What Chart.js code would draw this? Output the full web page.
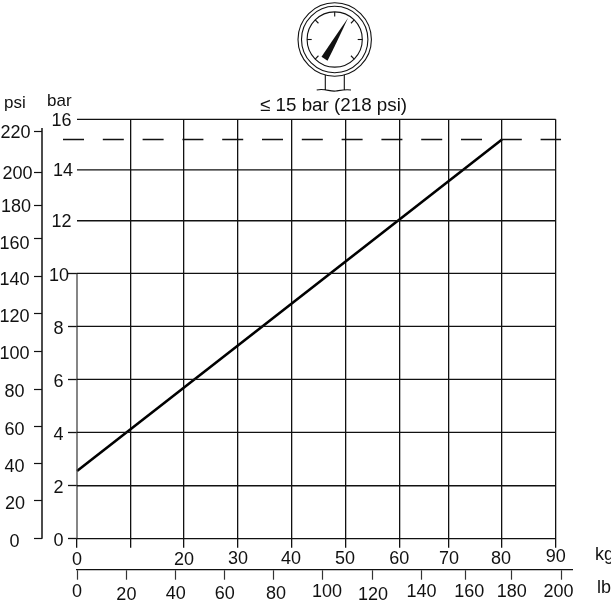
<!DOCTYPE html>
<html lang="en">
<head>
  <meta charset="UTF-8">
  <title>Pressure against weight</title>
  <script src="https://cdn.jsdelivr.net/npm/chart.js"></script>
  <style>
    html, body { margin: 0; padding: 0; background: #fff; }
    canvas { display: block; }
  </style>
</head>
<body>
  <canvas id="chart" width="611" height="602"></canvas>

  <script>
    // values; printed scales are not quite even, so each
    // label has its own measured position on the axis
    const kgLabels = ['0', '', '20', '30', '40', '50', '60', '70', '80', '90'];
    const kgValues = [0, 10.06, 20.1, 30.27, 40.4, 50.5, 60.6, 69.8, 79.9, 90];
    const lbLabels = ['0', '20', '40', '60', '80', '100', '120', '140', '160', '180', '200'];
    const lbValues = [0, 20.4, 40.8, 61, 81.3, 101.5, 121.9, 142.3, 160.5, 179.6, 200];
    const barLabels = ['0', '2', '4', '6', '8', '10', '12', '14', '16'];
    const barValues = [0, 2.02, 4.06, 6.08, 8.1, 10.12, 12.13, 14.07, 16];
    const psiLabels = ['0', '20', '40', '60', '80', '100', '120', '140', '160', '180', '200', '220'];
    const psiValues = [0, 20.2, 40.1, 60.2, 80, 100.1, 120.2, 140.1, 160.3, 178.4, 196.1, 217.6];

    const curveKg = [0, 79.9];
    const curveBar = [2.58, 15.23];
    const limitBar = 15.23;
    const limitKg = [-2.63, 91];

    // the labels were set by hand in the original: small offsets per label [dx, dy]
    const labelNudge = {
      kg: [[0, 2], [0, 0], [0, 2], [0, 0.5], [-1, 0.5], [-0.7, 0.5], [0, 0.5], [0.7, 0.5], [-1, 0.5], [0, -1]],
      lb: [[0, 0], [0, 3], [0, 2], [0, 2], [2.3, 2], [4.3, 0], [1, 3], [0, 0], [3.7, 0], [0, 0], [-2.7, 0]],
      bar: [[0.5, 2.8], [0.5, 2.5], [0.5, 2.8], [0.5, 2.8], [0.5, 2.5], [1, 2.8], [3.5, 1.5], [5, 1.5], [3.5, 2.2]],
      psi: [[-1, 3.2], [-0.5, 3.2], [-1, 3.5], [-1, 3.8], [-1, 2.5], [-1, 2.8], [-1, 3.2], [-1, 2.8], [-1, 5], [0.5, 1.5], [2, 1.8], [0, 0.8]]
    };

    const FONT = { family: '"Liberation Sans", Arial, sans-serif', size: 18 };
    const INK = '#111';

    function fixedTicks(values) {
      return scale => { scale.ticks = values.map(value => ({ value })); };
    }
    function fixedSize(prop, size) {
      return scale => {
        scale[prop] = size;
        scale.paddingLeft = scale.paddingRight = scale.paddingTop = scale.paddingBottom = 0;
      };
    }
    function line(xs, ys, extra) {
      return Object.assign({
        data: xs.map((x, i) => ({ x, y: ys[i] })),
        borderColor: INK, borderWidth: 1.3, pointRadius: 0, clip: false,
        xAxisID: 'kg', yAxisID: 'bar'
      }, extra);
    }

    const datasets = [
      // horizontal bar lines stop at 90 kg
      ...barValues.map(v => line([0, 90], [v, v])),
      // the 0 kg line only runs up to 10 bar
      line([0, 0], [0, barValues[5]], { borderColor: '#444' }),
      line(limitKg, [limitBar, limitBar], { borderDash: [21, 18.8] }),
      line(curveKg, curveBar, { borderColor: '#000', borderWidth: 2.6 }),
      // psi axis line, left of the bar scale
      line([-6.58, -6.58], [0, 219.7], { yAxisID: 'psi', borderWidth: 1.5 })
    ];

    const nudgeLabels = {
      id: 'nudgeLabels',
      beforeDraw(chart) {
        Object.keys(labelNudge).forEach(id => {
          chart.scales[id].getLabelItems().forEach((item, i) => {
            const n = labelNudge[id][i];
            item.options.translation = [item.options.translation[0] + n[0], item.options.translation[1] + n[1]];
          });
        });
      }
    };

    // gauge picture and the unit captions
    const extras = {
      id: 'extras',
      afterDraw(chart) {
        const c = chart.ctx;
        c.save();
        c.strokeStyle = INK;
        c.fillStyle = INK;
        c.lineWidth = 1.1;
        const cx = 334.7, cy = 39.5;
        [36.7, 33.2, 27.6].forEach(r => {
          c.beginPath();
          c.arc(cx, cy, r, 0, Math.PI * 2);
          c.stroke();
        });
        [180, 225, 270, 315, 0, 45, 135].forEach(a => {
          const t = a * Math.PI / 180;
          c.beginPath();
          c.moveTo(cx + 27.6 * Math.cos(t), cy + 27.6 * Math.sin(t));
          c.lineTo(cx + 23 * Math.cos(t), cy + 23 * Math.sin(t));
          c.stroke();
        });
        c.beginPath();
        c.moveTo(348, 18);
        c.quadraticCurveTo(336, 44, 327.5, 60.8);
        c.lineTo(321.5, 56.8);
        c.quadraticCurveTo(334, 38, 348, 18);
        c.closePath();
        c.fill();
        c.beginPath();
        c.moveTo(325.3, 75);
        c.lineTo(325.3, 90);
        c.moveTo(344.3, 75);
        c.lineTo(344.3, 90);
        c.moveTo(316.7, 90);
        c.bezierCurveTo(325, 88, 330, 92, 336, 91);
        c.bezierCurveTo(342, 90, 346, 89, 351, 90);
        c.stroke();

        c.textBaseline = 'alphabetic';
        c.textAlign = 'left';
        c.font = '18.8px ' + FONT.family;
        c.fillText('≤ 15 bar (218 psi)', 260, 111);
        c.font = '17px ' + FONT.family;
        c.fillText('psi', 4, 108);
        c.fillText('bar', 47, 106);
        c.font = '18px ' + FONT.family;
        c.fillText('kg', 595, 560);
        c.fillText('lb', 597, 593);
        c.restore();
      }
    };

    new Chart(document.getElementById('chart'), {
      type: 'line',
      data: { datasets },
      plugins: [nudgeLabels, extras],
      options: {
        responsive: false,
        animation: false,
        layout: { padding: { top: 119.3, right: 39, left: 0, bottom: 0 } },
        plugins: { legend: { display: false }, tooltip: { enabled: false } },
        scales: {
          kg: {
            type: 'linear', position: 'bottom', weight: 0,
            min: 0, max: 93.06,
            afterBuildTicks: fixedTicks(kgValues),
            afterFit: fixedSize('height', 31),
            border: { display: false },
            grid: {
              tickLength: 9, lineWidth: 1.3, tickWidth: 1.3,
              tickColor: INK,
              // 0 kg line is a short dataset instead
              color: ctx => ctx.index === 0 ? 'transparent' : INK
            },
            ticks: {
              font: FONT, color: INK, padding: 0, maxRotation: 0, autoSkip: false,
              callback: (v, i) => kgLabels[i]
            }
          },
          lb: {
            type: 'linear', position: 'bottom', weight: 1,
            min: 0, max: 204.5,
            afterBuildTicks: fixedTicks(lbValues),
            afterFit: fixedSize('height', 32.3),
            border: { display: true, color: INK, width: 1.3 },
            grid: { drawOnChartArea: false, tickLength: 10, tickWidth: 1.2, tickColor: '#333' },
            ticks: {
              font: FONT, color: INK, padding: 2, maxRotation: 0, autoSkip: false,
              callback: (v, i) => lbLabels[i]
            }
          },
          bar: {
            type: 'linear', position: 'left', weight: 0,
            min: 0, max: 16,
            afterBuildTicks: fixedTicks(barValues),
            afterFit: fixedSize('width', 35),
            border: { display: false },
            grid: {
              drawOnChartArea: false, tickLength: 9, tickWidth: 1.3,
              tickColor: ctx => ctx.index > 5 ? 'transparent' : INK
            },
            ticks: {
              font: FONT, color: INK, padding: 0, crossAlign: 'center', autoSkip: false,
              callback: (v, i) => barLabels[i]
            }
          },
          psi: {
            type: 'linear', position: 'left', weight: 1,
            min: 0, max: 224.3,
            afterBuildTicks: fixedTicks(psiValues),
            afterFit: fixedSize('width', 42),
            border: { display: false },
            grid: { drawOnChartArea: false, tickLength: 8, tickWidth: 1.2, tickColor: INK },
            ticks: {
              font: FONT, color: INK, padding: 3.5, crossAlign: 'center', autoSkip: false,
              callback: (v, i) => psiLabels[i]
            }
          }
        }
      }
    });
  </script>
</body>
</html>
